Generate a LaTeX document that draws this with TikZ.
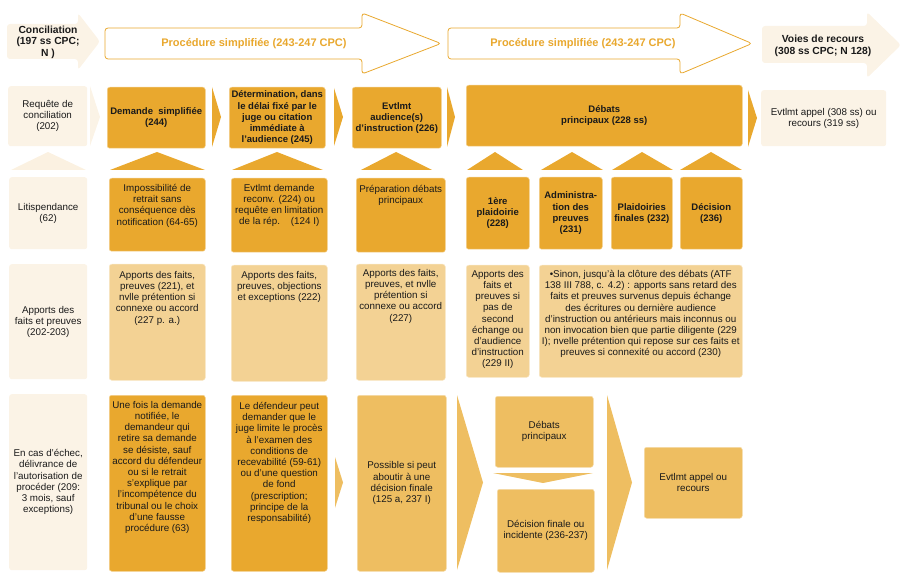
\documentclass[tikz,border=0pt]{standalone}
\usepackage{fontspec}
\setmainfont{Liberation Sans}

\begin{document}
\begin{tikzpicture}[x=1pt,y=-1pt]

% ------------------------------------------------ procedure theme colors
\definecolor{pr_orange}{RGB}{233,168,46}  %#E9A82E
\definecolor{pr_beige}{RGB}{251,243,230}  %#FBF3E6
\definecolor{pr_light}{RGB}{243,210,148}  %#F3D294
\definecolor{pr_mid}{RGB}{238,190,97}     %#EEBE61
\definecolor{pr_text}{RGB}{26,26,26}

\tikzset{
  txt/.style={inner sep=0pt, align=center, text=pr_text, font=\fontsize{9.8}{11.2}\selectfont},
  boldtxt/.style={txt, font=\fontsize{9.5}{11.2}\selectfont\bfseries},
  headtxt/.style={txt, font=\fontsize{10.3}{11.4}\selectfont\bfseries},
  proctxt/.style={txt, text=pr_orange, font=\fontsize{11}{12}\selectfont\bfseries},
  box/.style={txt, anchor=north west, rounded corners=2.5pt},
  beigebox/.style={box, fill=pr_beige},
  orangebox/.style={box, fill=pr_orange, draw=pr_orange!55!white, line width=0.5},
  lightbox/.style={box, fill=pr_light, draw=pr_light!55!white, line width=0.5},
  midbox/.style={box, fill=pr_mid, draw=pr_mid!55!white, line width=0.5},
  boldbox/.style={font=\fontsize{9.5}{11.2}\selectfont\bfseries},
}

\useasboundingbox (0,0) rectangle (908,580);

% ------------------------------------------------ top row of arrows
\fill[pr_beige, rounded corners=3] (7,24) -- (78,24) -- (78,13) -- (100,41.5) -- (78,70) -- (78,59) -- (7,59) -- cycle;
\node[headtxt] (concil) at (48,42) {Conciliation\\(197 ss CPC;\\N )};

\draw[pr_orange, fill=white, line width=0.8, rounded corners=3] (105,28) -- (362,28) -- (362,13) -- (441,43.5) -- (362,74) -- (362,59) -- (105,59) -- cycle;
\node[proctxt] (proc1) at (254,44) {Procédure simplifiée (243-247 CPC)};

\draw[pr_orange, fill=white, line width=0.8, rounded corners=3] (448,28) -- (680,28) -- (680,13) -- (752,43.5) -- (680,74) -- (680,59) -- (448,59) -- cycle;
\node[proctxt] (proc2) at (583,44) {Procédure simplifiée (243-247 CPC)};

\fill[pr_beige, rounded corners=3] (762,26) -- (867,26) -- (867,12) -- (901,45) -- (867,78) -- (867,63) -- (762,63) -- cycle;
\node[headtxt] (voies) at (823,46) {Voies de recours\\(308 ss CPC; N 128)};

% ------------------------------------------------ second row
\node[beigebox, minimum width=79, minimum height=60] (requete) at (8,86) {Requête de\\conciliation\\(202)};
\fill[pr_beige] (90,86) -- (100,117) -- (90,146) -- cycle;

\node[orangebox, boldbox, minimum width=98, minimum height=61] (demande) at (107,87) {Demande~ simplifiée\\(244)};
\fill[pr_orange] (212,87) -- (221,117) -- (212,147) -- cycle;

\node[orangebox, boldbox, minimum width=96, minimum height=61] (determ) at (229,87) {Détermination, dans\\le délai fixé par le\\juge ou citation\\immédiate à\\l'audience (245)};
\fill[pr_orange] (334,88) -- (343,117) -- (334,146) -- cycle;

\node[orangebox, boldbox, minimum width=89, minimum height=61] (audience) at (352,87) {Evtlmt\\audience(s)\\d'instruction (226)};
\fill[pr_orange] (447,87) -- (455,117) -- (447,147) -- cycle;

\node[orangebox, boldbox, minimum width=276, minimum height=61] (debats) at (466,85) {Débats\\principaux (228 ss)};
\fill[pr_orange] (748,90) -- (757,118) -- (748,147) -- cycle;

\node[beigebox, minimum width=125, minimum height=56] (appel) at (761,90) {Evtlmt appel (308 ss) ou\\recours (319 ss)};

% ------------------------------------------------ upward triangles
\fill[pr_beige!90!pr_orange!70!white] (11,170) -- (48,152) -- (86,170) -- cycle;
\fill[pr_orange] (110,170) -- (157,152) -- (205,170) -- cycle;
\fill[pr_orange] (232,170) -- (277,152) -- (323,170) -- cycle;
\fill[pr_orange] (361,170) -- (396,152) -- (432,170) -- cycle;
\fill[pr_orange] (467,170) -- (495,152) -- (523,170) -- cycle;
\fill[pr_orange] (541,170) -- (572,152) -- (603,170) -- cycle;
\fill[pr_orange] (612,170) -- (642,152) -- (673,170) -- cycle;
\fill[pr_orange] (680,170) -- (711,152) -- (742,170) -- cycle;

% ------------------------------------------------ third row
\node[beigebox, minimum width=78, minimum height=72] (litis) at (9,177) {Litispendance\\(62)};

\node[orangebox, minimum width=96, minimum height=73] (imposs) at (109,178) {};
\node[txt, anchor=north] (impossT) at ([yshift=-6]imposs.north) {Impossibilité de\\retrait sans\\conséquence dès\\notification (64-65)};

\node[orangebox, minimum width=96, minimum height=74] (reconv) at (231,178) {};
\node[txt, anchor=north] (reconvT) at ([yshift=-6]reconv.north) {Evtlmt demande\\reconv. (224) ou\\requête en limitation\\de la rép.\ \ \ \ (124 I)};

\node[orangebox, minimum width=89, minimum height=74] (prepa) at (356,178) {};
\node[txt, anchor=north] (prepaT) at ([yshift=-7]prepa.north) {Préparation débats\\principaux};

\node[orangebox, boldbox, minimum width=63, minimum height=72] (plaid1) at (466,177) {1ère\\plaidoirie\\(228)};
\node[orangebox, boldbox, minimum width=63, minimum height=72] (admin) at (539,177) {Administra-\\tion des\\preuves\\(231)};
\node[orangebox, boldbox, minimum width=61, minimum height=72] (plaidfin) at (611,177) {Plaidoiries\\finales (232)};
\node[orangebox, boldbox, minimum width=62, minimum height=72] (decision) at (680,177) {Décision\\(236)};

% ------------------------------------------------ fourth row
\node[beigebox, minimum width=78, minimum height=115] (apports0) at (9,264) {Apports des\\faits et preuves\\(202-203)};

\node[lightbox, minimum width=96, minimum height=116] (apports1) at (109,264) {};
\node[txt, anchor=north] (apports1T) at ([yshift=-7]apports1.north) {Apports des faits,\\preuves (221), et\\nvlle prétention si\\connexe ou accord\\(227 p. a.)};

\node[lightbox, minimum width=96, minimum height=116] (apports2) at (231,265) {};
\node[txt, anchor=north] (apports2T) at ([yshift=-6]apports2.north) {Apports des faits,\\preuves, objections\\et exceptions (222)};

\node[lightbox, minimum width=89, minimum height=116] (apports3) at (356,264) {};
\node[txt, anchor=north] (apports3T) at ([yshift=-5]apports3.north) {Apports des faits,\\preuves, et nvlle\\prétention si\\connexe ou accord\\(227)};

\node[lightbox, minimum width=63, minimum height=112] (apports4) at (466,265) {};
\node[txt, anchor=north] (apports4T) at ([yshift=-5]apports4.north) {Apports des\\faits et\\preuves si\\pas de\\second\\échange ou\\d'audience\\d'instruction\\(229 II)};

\node[lightbox, minimum width=203, minimum height=112] (sinon) at (539,265) {};
\node[txt, anchor=north] (sinonT) at ([yshift=-5]sinon.north) {•Sinon, jusqu'à la clôture des débats (ATF\\138 III 788, c. 4.2) : apports sans retard des\\faits et preuves survenus depuis échange\\des écritures ou dernière audience\\d'instruction ou antérieurs mais inconnus ou\\non invocation bien que partie diligente (229\\I); nvelle prétention qui repose sur ces faits et\\preuves si connexité ou accord (230)};

% ------------------------------------------------ fifth row
\node[beigebox, minimum width=78, minimum height=176] (echec) at (9,394) {En cas d'échec,\\délivrance de\\l'autorisation de\\procéder (209:\\3 mois, sauf\\exceptions)};

\node[orangebox, minimum width=96, minimum height=176] (retrait) at (109,395) {};
\node[txt, anchor=north] (retraitT) at ([yshift=-6]retrait.north) {Une fois la demande\\notifiée, le\\demandeur qui\\retire sa demande\\se désiste, sauf\\accord du défendeur\\ou si le retrait\\s'explique par\\l'incompétence du\\tribunal ou le choix\\d'une fausse\\procédure (63)};

\node[orangebox, minimum width=96, minimum height=176] (limite) at (231,395) {};
\node[txt, anchor=north] (limiteT) at ([yshift=-7]limite.north) {Le défendeur peut\\demander que le\\juge limite le procès\\à l'examen des\\conditions de\\recevabilité (59-61)\\ou d'une question\\de fond\\(prescription;\\principe de la\\responsabilité)};
\fill[pr_mid] (335,457) -- (343,482.5) -- (335,508) -- cycle;

\node[midbox, minimum width=89, minimum height=176] (possible) at (357,395) {Possible si peut\\aboutir à une\\décision finale\\(125 a, 237 I)};
\fill[pr_mid] (457,395) -- (483,482.5) -- (457,570) -- cycle;

\node[midbox, minimum width=98, minimum height=71] (debats2) at (495,396) {Débats\\principaux};
\fill[pr_mid] (493,473) -- (593,473) -- (543,483) -- cycle;
\node[midbox, minimum width=97, minimum height=83] (decfin) at (497,489) {Décision finale ou\\incidente (236-237)};
\fill[pr_mid] (607,395) -- (632,482.5) -- (607,570) -- cycle;

\node[midbox, minimum width=98, minimum height=71] (appel2) at (644,447) {Evtlmt appel ou\\recours};

\end{tikzpicture}
\end{document}
